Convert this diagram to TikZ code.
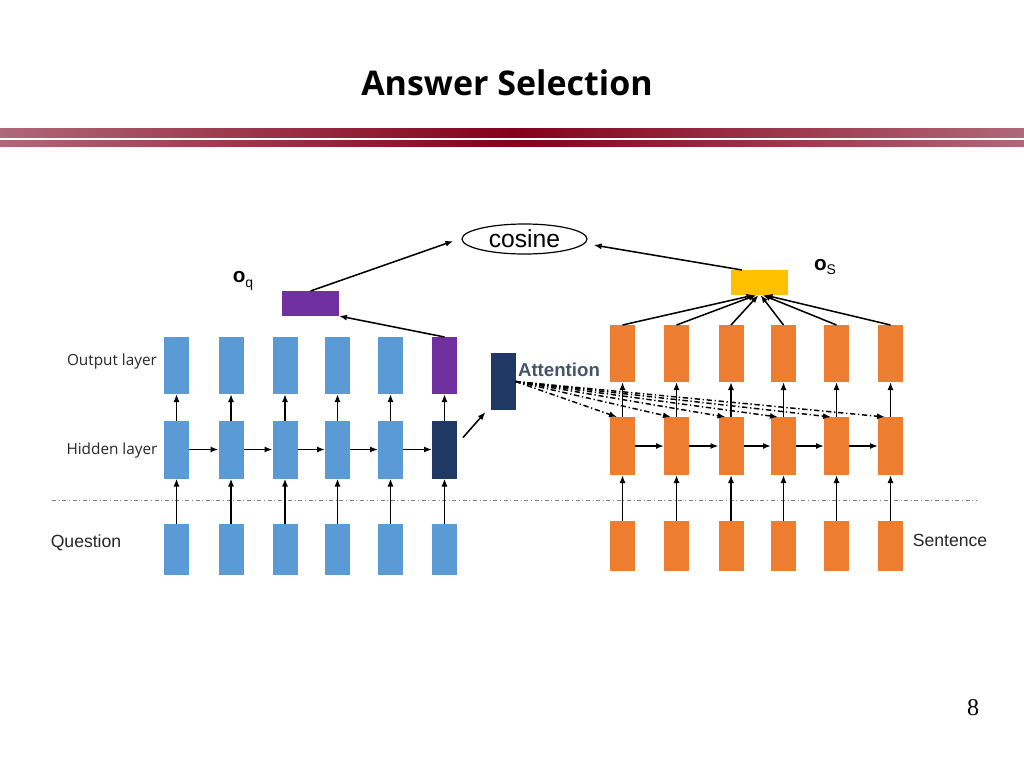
\documentclass[tikz,border=0pt]{standalone}
\usepackage{fontspec}
\setmainfont{Liberation Serif}
\setsansfont{Liberation Sans}
\newfontfamily\layerfont{Open Sans}
\usetikzlibrary{arrows.meta,calc,shapes.geometric}

\definecolor{qblue}{HTML}{5B9BD5}
\definecolor{sorange}{HTML}{ED7D31}
\definecolor{qnavy}{HTML}{203864}
\definecolor{qpurple}{HTML}{7030A0}
\definecolor{sgold}{HTML}{FFC000}
\definecolor{attgray}{HTML}{44546A}
\definecolor{barred}{HTML}{85001A}
\definecolor{barpink}{HTML}{B0687A}

\tikzset{
	cell/.style={rectangle, draw=none, inner sep=0pt, outer sep=0pt, minimum width=18.75pt},
	flow/.style={-{Latex[length=6pt, width=4.5pt]}, line width=1.15pt},
	attn/.style={-{Latex[length=6pt, width=4.5pt]}, line width=1.1pt, dash pattern=on 4pt off 2pt on 1pt off 2pt},
	tag/.style={font=\sffamily\fontsize{13.2}{15}\selectfont, text=black!85}
}

\begin{document}
\begin{tikzpicture}[x=0.75pt, y=-0.75pt]
			\useasboundingbox (0,0) rectangle (1024,768);

			% Title and bars
			\node[font=\layerfont\bfseries\fontsize{25.5}{30}\selectfont] (title) at (507,83) {Answer Selection};
			\shade[left color=barpink, right color=barpink, middle color=barred] (0,128) rectangle (1024,137);
			\shade[left color=barpink, right color=barpink, middle color=barred] (0,140) rectangle (1024,146);

			% Separator
			\draw[gray, line width=0.7pt, dash dot] (52,500) -- (977,500);

			% Question side
			\foreach \x/\oc/\hc [count=\i, remember=\i as \j (initially 0)] in
				{176.5/qblue/qblue, 231/qblue/qblue, 285/qblue/qblue, 337.5/qblue/qblue, 390.5/qblue/qblue, 444.5/qpurple/qnavy} {
				\node[cell, fill=\oc, minimum height=42.75pt] (qo\i) at (\x,365.5) {};
				\node[cell, fill=\hc, minimum height=43.5pt] (qh\i) at (\x,449.5) {};
				\node[cell, fill=qblue, minimum height=38.25pt] (qi\i) at (\x,549) {};
				\draw[flow] (qi\i) -- (qh\i);
				\draw[flow] (qh\i) -- (qo\i);
				\ifnum\i>1 \draw[flow] (qh\j) -- (qh\i); \fi
			}

			% Sentence side
			\foreach \x [count=\i, remember=\i as \j (initially 0)] in {622.5, 676.5, 731, 783.5, 836.5, 890.5} {
				\node[cell, fill=sorange, minimum height=42.75pt] (so\i) at (\x,353.5) {};
				\node[cell, fill=sorange, minimum height=43.5pt] (sh\i) at (\x,446) {};
				\node[cell, fill=sorange, minimum height=37.5pt] (si\i) at (\x,546) {};
				\draw[flow] (si\i) -- (sh\i);
				\draw[flow] (sh\i) -- (so\i);
				\ifnum\i>1 \draw[flow] (sh\j) -- (sh\i); \fi
			}

			% Pooled vectors and cosine
			\node[cell, fill=qpurple, minimum width=42.75pt, minimum height=18.75pt] (oq) at (310.5,303.5) {};
			\node[cell, fill=sgold, minimum width=42.75pt, minimum height=18.75pt] (os) at (759.5,282.5) {};
			\node[ellipse, draw, line width=0.9pt, minimum width=93.75pt, minimum height=22.5pt, inner sep=0pt,
				font=\sffamily\fontsize{18.5}{20}\selectfont] (cosine) at (524.5,239) {cosine};
			\node[font=\sffamily\fontsize{15.5}{17}\selectfont] (oqlabel) at (243,281) {\textbf{o}\raisebox{-0.45ex}{\fontsize{10.5}{12}\selectfont q}};
			\node[font=\sffamily\fontsize{15.5}{17}\selectfont] (oslabel) at (825,267) {\textbf{o}\raisebox{-0.45ex}{\fontsize{10.5}{12}\selectfont S}};

			\draw[flow] (qo6.north) -- (oq.south east);
			\draw[flow] (oq.north) -- ($(cosine.west)+(-8,2)$);
			\draw[flow] ($(os.north west)+(11,0)$) -- ($(cosine.east)+(6,6)$);
			\foreach \i/\dx in {1/-5, 2/-3, 3/-1, 4/1, 5/3, 6/5} {
				\draw[flow] (so\i.north) -- ($(os.south)+(\dx,0)$);
			}

			% Attention
			\node[cell, fill=qnavy, minimum height=42.75pt] (att) at (503,381.5) {};
			\node[font=\sffamily\bfseries\fontsize{14}{16}\selectfont, text=attgray] (attlabel) at (559,370) {Attention};
			\draw[flow] ($(qh6.east)+(6,-12)$) -- ($(att.south west)+(-5,2)$);
			\foreach \i in {1,...,6} {
				\draw[attn] (att.east) -- ($(sh\i.north west)+(7,0)$);
			}

			% Row labels
			\node[font=\layerfont\fontsize{11.5}{13}\selectfont, text=black!85] (outlabel) at (112,362) {Output layer};
			\node[font=\layerfont\fontsize{11.5}{13}\selectfont, text=black!85] (hidlabel) at (112,451) {Hidden layer};
			\node[tag] (qlabel) at (86,543) {Question};
			\node[tag] (slabel) at (950,540) {Sentence};

			% Page number
			\node[font=\fontsize{18}{20}\selectfont] (page) at (973,708) {8};
		\end{tikzpicture}
\end{document}
